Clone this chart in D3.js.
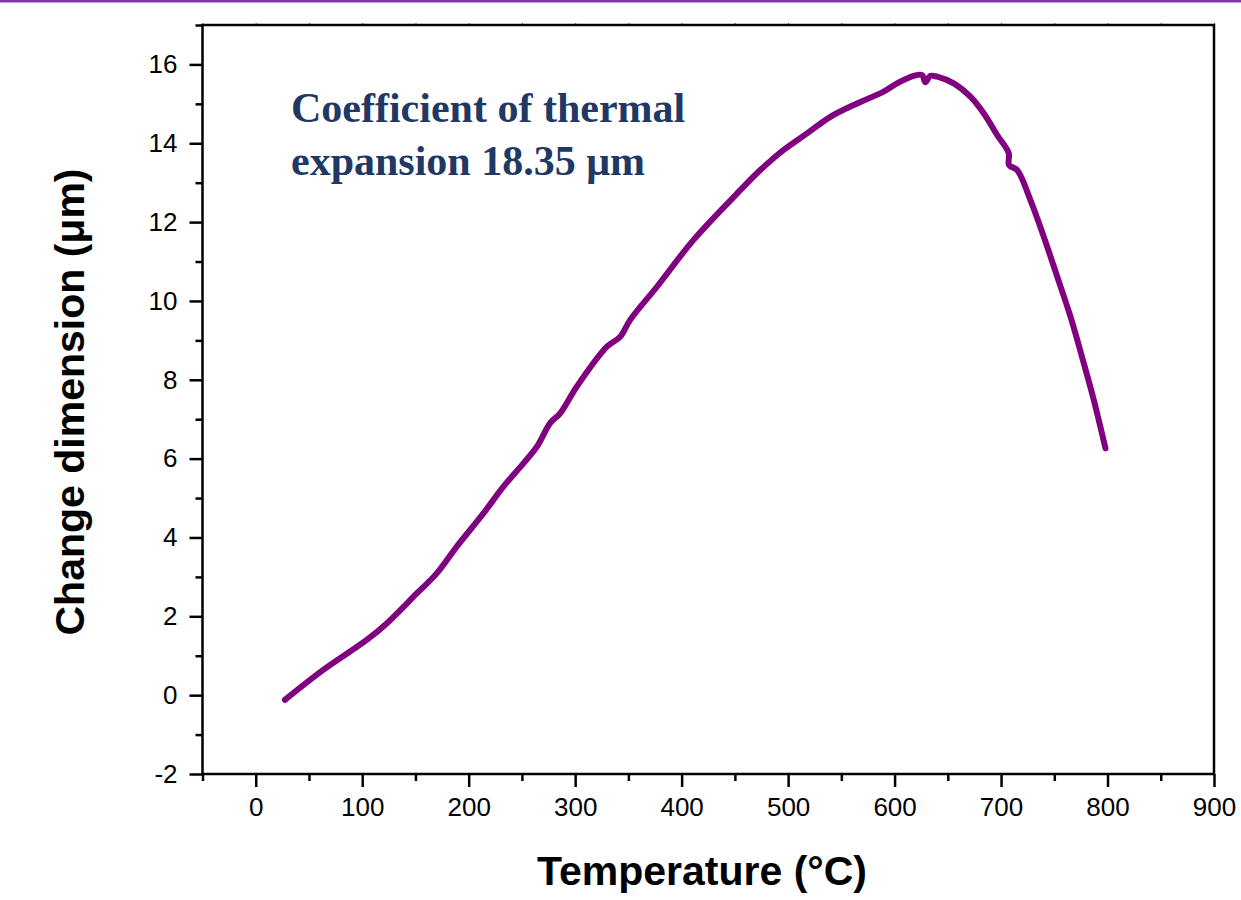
<!DOCTYPE html>
<html>
<head>
<meta charset="utf-8">
<script src="https://cdn.jsdelivr.net/npm/d3@7"></script>
<style>
  html, body { margin: 0; padding: 0; background: #ffffff; }
  svg { display: block; }
</style>
</head>
<body>
<svg id="chart" width="1241" height="900"></svg>
<script>
// ---- data ----
const temperature = [27.4, 63.4, 104.2, 123.0, 151.2, 170.0, 188.8, 213.8, 232.6, 251.4,
  264.0, 276.5, 285.9, 301.6, 329.8, 342.3, 351.7, 376.8, 411.2, 455.1,
  473.9, 495.8, 517.8, 539.7, 564.8, 589.7, 602.3, 617.9, 625.8, 628.9,
  633.6, 639.9, 655.5, 671.2, 683.7, 696.3, 707.2, 707.5, 715.1, 727.6,
  740.1, 752.7, 765.2, 777.7, 787.1, 798.1];
const dimension = [-0.12, 0.64, 1.40, 1.82, 2.58, 3.09, 3.77, 4.61, 5.29, 5.88,
  6.30, 6.90, 7.15, 7.83, 8.84, 9.09, 9.52, 10.36, 11.55, 12.81,
  13.32, 13.83, 14.25, 14.67, 15.01, 15.31, 15.52, 15.71, 15.73, 15.55,
  15.71, 15.69, 15.52, 15.18, 14.76, 14.21, 13.75, 13.45, 13.32, 12.56,
  11.63, 10.62, 9.60, 8.42, 7.49, 6.26];
const xMajorTicks = [0, 100, 200, 300, 400, 500, 600, 700, 800, 900];
const xMinorTicks = [-50, 50, 150, 250, 350, 450, 550, 650, 750, 850];
const yMajorTicks = [-2, 0, 2, 4, 6, 8, 10, 12, 14, 16];
const yMinorTicks = [-1, 1, 3, 5, 7, 9, 11, 13, 15, 17];
const xLabel = "Temperature (°C)";
const yLabel = "Change dimension (μm)";
const noteLines = ["Coefficient of thermal", "expansion 18.35 μm"];

// ---- layout ----
const svg = d3.select("#chart");
const L = 202.5, R = 1214, T = 25, B = 774;
const x = d3.scaleLinear().domain([-50, 900]).range([L, R]);
const y = d3.scaleLinear().domain([-2, 17]).range([B, T]);

// top purple band
svg.append("rect").attr("x", 0).attr("y", 0).attr("width", 1241).attr("height", 2.5)
  .attr("fill", "#7b3aa8");

const sansFont = "'Liberation Sans', Arial, Helvetica, sans-serif";
const fmt = d => String(d);

function styleAxis(g, labels) {
  g.select(".domain").remove();
  g.selectAll(".tick line").attr("stroke", "#000").attr("stroke-width", 2.5);
  g.selectAll(".tick text")
    .attr("font-family", sansFont).attr("font-size", 26).attr("fill", "#000");
  if (!labels) g.selectAll(".tick text").remove();
}

// bottom axis
svg.append("g").attr("transform", `translate(0,${B})`)
  .call(d3.axisBottom(x).tickValues(xMajorTicks).tickSize(13).tickPadding(11).tickFormat(fmt))
  .call(g => styleAxis(g, true));
svg.append("g").attr("transform", `translate(0,${B})`)
  .call(d3.axisBottom(x).tickValues(xMinorTicks).tickSize(7).tickFormat(""))
  .call(g => styleAxis(g, false));

// top axis (tiny ticks)
svg.append("g").attr("transform", `translate(0,${T})`)
  .call(d3.axisTop(x).tickValues(xMajorTicks.concat(xMinorTicks)).tickSize(2).tickFormat(""))
  .call(g => styleAxis(g, false))
  .call(g => g.selectAll(".tick line").attr("stroke", "#666").attr("stroke-width", 1));

// left axis
svg.append("g").attr("transform", `translate(${L},0)`)
  .call(d3.axisLeft(y).tickValues(yMajorTicks).tickSize(13).tickPadding(12).tickFormat(fmt))
  .call(g => styleAxis(g, true));
svg.append("g").attr("transform", `translate(${L},0)`)
  .call(d3.axisLeft(y).tickValues(yMinorTicks).tickSize(7).tickFormat(""))
  .call(g => styleAxis(g, false));

// frame
svg.append("rect").attr("x", L).attr("y", T).attr("width", R - L).attr("height", B - T)
  .attr("fill", "none").attr("stroke", "#000").attr("stroke-width", 2.5);

// curve
const pts = temperature.map((t, i) => [t, dimension[i]]);
const line = d3.line().x(d => x(d[0])).y(d => y(d[1])).curve(d3.curveCatmullRom.alpha(0.5));
svg.append("path").datum(pts).attr("d", line)
  .attr("fill", "none").attr("stroke", "#800080").attr("stroke-width", 6)
  .attr("stroke-linecap", "round").attr("stroke-linejoin", "round");

// annotation
const note = svg.append("text")
  .attr("font-family", "'Liberation Serif', 'Times New Roman', serif")
  .attr("font-weight", "bold").attr("font-size", 42).attr("fill", "#1f3864");
noteLines.forEach((s, i) => {
  note.append("tspan").attr("x", 291).attr("y", 122 + i * 53).text(s);
});

// axis titles
svg.append("text").attr("x", 702).attr("y", 885)
  .attr("text-anchor", "middle").attr("font-family", sansFont)
  .attr("font-weight", "bold").attr("font-size", 41).attr("fill", "#000").text(xLabel);
svg.append("text").attr("transform", `translate(84,402) rotate(-90)`)
  .attr("text-anchor", "middle").attr("font-family", sansFont)
  .attr("font-weight", "bold").attr("font-size", 41).attr("fill", "#000").text(yLabel);
</script>
</body>
</html>
